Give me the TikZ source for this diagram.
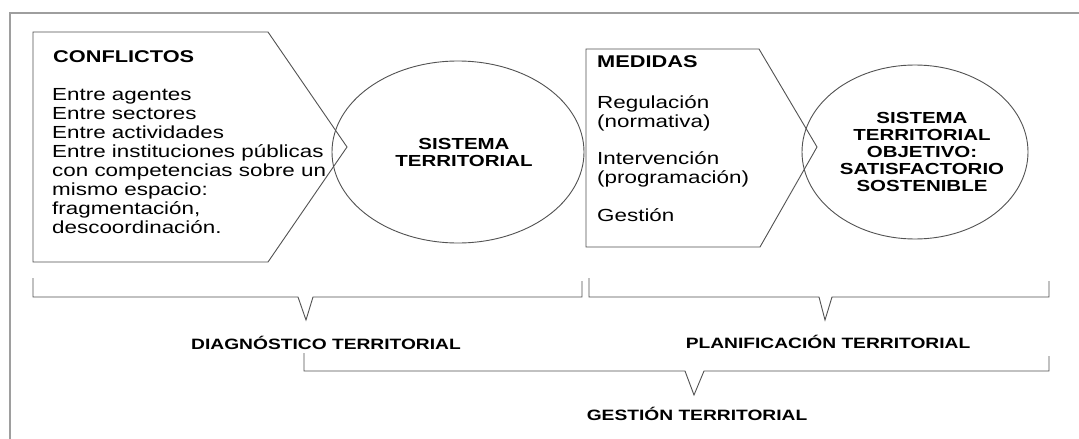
\documentclass[tikz,border=0pt]{standalone}
\usepackage{fontspec}
\setmainfont{Liberation Sans}
\newfontfamily\widesans[FakeStretch=1.28]{Liberation Sans}
\usetikzlibrary{shapes.geometric}
\newcommand\listtxt{\widesans\fontsize{17.5}{19}\selectfont}
\newcommand\headtxt{\widesans\bfseries\fontsize{17}{19}\selectfont}
\newcommand\ovaltxt{\widesans\bfseries\fontsize{16}{17}\selectfont}
\newcommand\bracetxt{\widesans\bfseries\fontsize{15}{17}\selectfont}
\begin{document}
\begin{tikzpicture}[x=1pt,y=-1pt,
    outline/.style={draw=black!68,line width=0.9pt},
    oval/.style={outline,ellipse,inner sep=0pt}]
    \fill[white] (0,0) rectangle (1079,439);
    \useasboundingbox (0,0) rectangle (1079,439);
    \draw[black!38,line width=1.6pt] (10,439) -- (10,13) -- (1079,13);
    % conflictos
    \draw[outline] (33,32) -- (268,32) -- (347,147) -- (268,262) -- (33,262) -- cycle;
    \node[anchor=base west,inner sep=0pt,font=\headtxt] (conf) at (53,62) {CONFLICTOS};
    % base of a multi-line node = last line
    \node[anchor=base west,inner sep=0pt,align=left,font=\listtxt] (confl) at (52,233)
        {Entre agentes\\Entre sectores\\Entre actividades\\Entre instituciones públicas\\
         con competencias sobre un\\mismo espacio:\\fragmentación,\\descoordinación.};
    \node[oval,minimum width=252pt,minimum height=182pt] (sis) at (458,152) {};
    \node[align=center,font=\ovaltxt] (sist) at (464,152) {SISTEMA\\TERRITORIAL};
    % medidas
    \draw[outline] (586,49) -- (759,49) -- (817,147) -- (760,247) -- (586,247) -- cycle;
    \node[anchor=base west,inner sep=0pt,font=\headtxt] (med) at (597,67) {MEDIDAS};
    \node[anchor=base west,inner sep=0pt,align=left,font=\listtxt] (medl) at (597,221)
        {Regulación\\(normativa)\\[18pt]Intervención\\(programación)\\[19pt]Gestión};
    \node[oval,minimum width=226pt,minimum height=174pt] (obj) at (915,152) {};
    \node[align=center,font=\ovaltxt] (objt) at (922,152)
        {SISTEMA\\TERRITORIAL\\OBJETIVO:\\SATISFACTORIO\\SOSTENIBLE};
    % llaves
    \draw[outline] (33,278) -- (33,297) -- (298,297) -- (306,320) -- (313,297) -- (582,297) -- (582,281);
    \draw[outline] (589,278) -- (589,297) -- (819,297) -- (825,320) -- (832,297) -- (1049,297) -- (1049,281);
    \draw[outline] (304,353) -- (304,371) -- (685,371) -- (694,395) -- (704,371) -- (1049,371) -- (1049,356);
    \node[anchor=base,font=\bracetxt] (diag) at (326,349) {DIAGNÓSTICO TERRITORIAL};
    \node[anchor=base,font=\bracetxt] (plan) at (828,348) {PLANIFICACIÓN TERRITORIAL};
    \node[anchor=base,font=\bracetxt] (gest) at (697,420) {GESTIÓN TERRITORIAL};
\end{tikzpicture}
\end{document}
